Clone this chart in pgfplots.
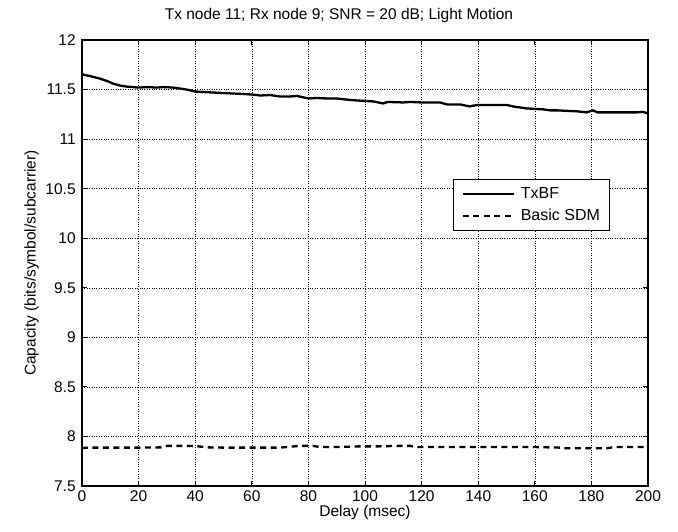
\documentclass[border=0pt]{standalone}
\usepackage{pgfplots}
\pgfplotsset{compat=1.18}
\usepackage{fontspec}
\setmainfont{Liberation Sans}
\begin{document}
\fontsize{15.5}{18}\selectfont
\begin{tikzpicture}
\begin{axis}[
  at={(0,0)}, anchor=south west,
  scale only axis,
  width=566pt, height=446pt,
  xmin=0, xmax=200, ymin=7.5, ymax=12,
  xtick={0,20,...,200},
  ytick={7.5,8,...,12},
  yticklabels={7.5,8,8.5,9,9.5,10,10.5,11,11.5,12},
  /pgf/number format/assume math mode=true,
  tick label style={font=\fontsize{15.5}{18}\selectfont},
  label style={font=\fontsize{15.5}{18}\selectfont},
  xticklabel style={yshift=1pt},
  yticklabel style={xshift=-1pt},
  grid=major,
  major grid style={dotted, black, line width=0.5pt},
  axis line style={line width=1.5pt},
  tick style={black, line width=0.9pt},
  major tick length=5pt,
  tick align=inside,
  xlabel={Delay (msec)},
  ylabel={Capacity (bits/symbol/subcarrier)},
  xlabel style={yshift=7pt},
  ylabel style={yshift=-4pt},
  title={Tx node 11; Rx node 9; SNR = 20 dB; Light Motion},
  title style={at={(0.454,1)}, anchor=south, yshift=6pt, font=\fontsize{15.5}{18}\selectfont},
  legend style={at={(0.6555,0.6883)}, anchor=north west, draw=black, line width=1pt,
    font=\fontsize{16}{18}\selectfont, inner xsep=8pt, inner ysep=6pt, row sep=4pt,
    cells={anchor=west}},
  legend image code/.code={\draw[#1] (0pt,0pt) -- (51pt,0pt); \path (55pt,0pt);},
]
\addplot[black, line width=2.3pt] coordinates {
(0,11.66) (0.5,11.65) (3,11.635) (6.4,11.61) (9,11.585) (11,11.56) (13.5,11.54) (15.8,11.53)
(20,11.52) (23,11.525) (26.4,11.52) (29,11.525) (32.2,11.52) (34.6,11.51) (37,11.50)
(40,11.48) (43,11.475) (46.4,11.47) (50,11.465) (53.5,11.46) (57,11.455) (60,11.45)
(63,11.44) (66.4,11.445) (70,11.43) (73.5,11.43) (76,11.435) (80,11.41) (83,11.415)
(86.5,11.41) (90,11.41) (94.7,11.395) (97,11.39) (100,11.385) (103,11.38) (106.4,11.36)
(108,11.375) (113.5,11.37) (116,11.375) (120,11.37) (126.5,11.37) (129,11.35)
(133.6,11.35) (137,11.33) (139.7,11.345) (145,11.345) (150,11.345) (152.3,11.33)
(157,11.31) (160,11.305) (163,11.30) (165.4,11.29) (168,11.29) (171.3,11.285)
(175,11.28) (178.3,11.27) (180.6,11.29) (182,11.27) (186,11.27) (190,11.27)
(193,11.27) (196,11.27) (198,11.275) (200,11.26)
};
\addlegendentry{TxBF}
\addplot[black, line width=2.3pt, dash pattern=on 6pt off 4.5pt] coordinates {
(0,7.883) (2,7.887) (10,7.887) (20,7.887) (28,7.89) (30,7.905) (34,7.905) (37,7.905)
(41,7.90) (44.5,7.89) (50,7.887) (60,7.887) (70,7.887) (77,7.905) (81.6,7.905)
(84,7.893) (90,7.893) (98,7.90) (105,7.90) (112,7.905) (116,7.905) (118,7.893)
(130,7.893) (140,7.893) (150,7.893) (160,7.893) (169,7.887) (171,7.88) (180,7.88)
(185.5,7.88) (188,7.893) (195,7.893) (200,7.893)
};
\addlegendentry{Basic SDM}
\end{axis}
\path (-82pt,-45pt) rectangle (596pt,486pt);
\end{tikzpicture}
\end{document}
